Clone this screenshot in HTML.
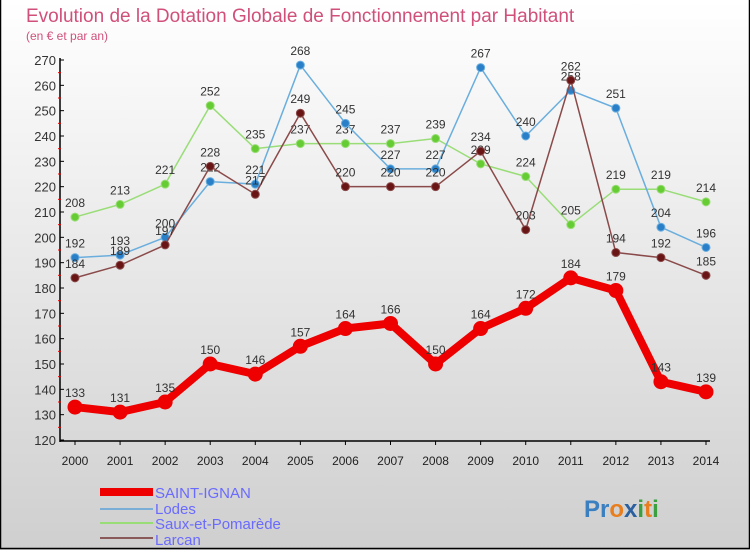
<!DOCTYPE html>
<html><head><meta charset="utf-8"><style>
html,body{margin:0;padding:0}
body{width:750px;height:550px;overflow:hidden;font-family:"Liberation Sans",sans-serif}
svg{display:block}
</style></head><body>
<svg id="c" width="750" height="550" xmlns="http://www.w3.org/2000/svg">
<defs><linearGradient id="bg" x1="0" y1="0" x2="0" y2="1"><stop offset="0" stop-color="#ffffff"/><stop offset="1" stop-color="#cfcfcf"/></linearGradient></defs>
<rect x="0" y="0" width="750" height="550" fill="url(#bg)"/>
<rect x="0.5" y="-1" width="749" height="549.5" fill="none" stroke="#000" stroke-width="1.5"/>
<text x="26" y="22" font-size="19" fill="#d0507a">Evolution de la Dotation Globale de Fonctionnement par Habitant</text>
<text x="26" y="40" font-size="12" fill="#d0507a">(en € et par an)</text>
<g id="axes"></g><g id="series"></g>
<g>
<rect x="100" y="488" width="53" height="8" fill="#ee0000"/>
<text x="155" y="498" font-size="15" fill="#6a6aff">SAINT-IGNAN</text>
<rect x="100" y="508" width="53" height="2" fill="#7aaed6"/>
<text x="155" y="514" font-size="15" fill="#6a6aff">Lodes</text>
<rect x="100" y="522" width="53" height="2" fill="#99dd77"/>
<text x="155" y="529" font-size="15" fill="#6a6aff">Saux-et-Pomarède</text>
<rect x="100" y="537" width="53" height="2" fill="#8a5a5a"/>
<text x="155" y="545" font-size="15" fill="#6a6aff">Larcan</text>
</g>
<text x="584" y="517" font-size="24" font-weight="bold"><tspan fill="#3a7fc0">Pr</tspan><tspan fill="#e87e1e">o</tspan><tspan fill="#2a5fa0">x</tspan><tspan fill="#3aa040">i</tspan><tspan fill="#e87e1e">t</tspan><tspan fill="#3aa040">i</tspan></text>
</svg>
<script>
const years=[2000,2001,2002,2003,2004,2005,2006,2007,2008,2009,2010,2011,2012,2013,2014];
const yTicks=[120,130,140,150,160,170,180,190,200,210,220,230,240,250,260,270];
const saintIgnan=[133,131,135,150,146,157,164,166,150,164,172,184,179,143,139];
const lodes=[192,193,200,222,221,268,245,227,227,267,240,258,251,204,196];
const saux=[208,213,221,252,235,237,237,237,239,229,224,205,219,219,214];
const larcan=[184,189,197,228,217,249,220,220,220,234,203,262,194,192,185];
const NS="http://www.w3.org/2000/svg";
const x=i=>75+i*(706-75)/14;
const y=v=>440-(v-120)*(380/150);
function mk(t,a,p){const e=document.createElementNS(NS,t);for(const k in a)e.setAttribute(k,a[k]);p.appendChild(e);return e;}
const ax=document.getElementById('axes');
const yl=mk('line',{x1:60,y1:58,x2:60,y2:442,stroke:'#000','stroke-width':1.5},ax);


const xl=mk('line',{x1:60,y1:441,x2:710,y2:441,stroke:'#000','stroke-width':1.5},ax);


yTicks.forEach(v=>{
  mk('line',{x1:60,y1:y(v),x2:64,y2:y(v),stroke:'#000'},ax);
  if(v<270) mk('line',{x1:58,y1:y(v+5),x2:61,y2:y(v+5),stroke:'#e00'},ax);
  const t=mk('text',{x:56,y:y(v)+5,'font-size':13,fill:'#333','text-anchor':'end'},ax);
  t.textContent=v;
  
  
});
years.forEach((yr,i)=>{
  mk('line',{x1:x(i),y1:441,x2:x(i),y2:445,stroke:'#000'},ax);
  const t=mk('text',{x:x(i),y:465,'font-size':12,fill:'#222','text-anchor':'middle'},ax);
  t.textContent=yr;
  
  
});
const sg=document.getElementById('series');
function series(vals,name,col,dark,w,r){
  const g=mk('g',{},sg);
  
  
  const pl=mk('polyline',{points:vals.map((v,i)=>x(i)+','+y(v)).join(' '),fill:'none',stroke:col,'stroke-width':w,'stroke-linejoin':'round'},g);
  
  
  vals.forEach((v,i)=>{
    const c=mk('circle',{cx:x(i),cy:y(v),r:r,fill:dark,stroke:col,'stroke-width':1},g);
    
    
    const t=mk('text',{x:x(i),y:y(v)-10,'font-size':12,fill:'#333','text-anchor':'middle'},g);
    t.textContent=v;
    
    
  });
}
series(saux,'saux','#99dd77','#66cc33',1.5,4);
series(lodes,'lodes','#6aaede','#2a80c8',1.5,4);
series(larcan,'larcan','#8a4a4a','#6a1515',1.5,4);
series(saintIgnan,'saint-ignan','#ee0000','#ee0000',8,7);
</script>
</body></html>
